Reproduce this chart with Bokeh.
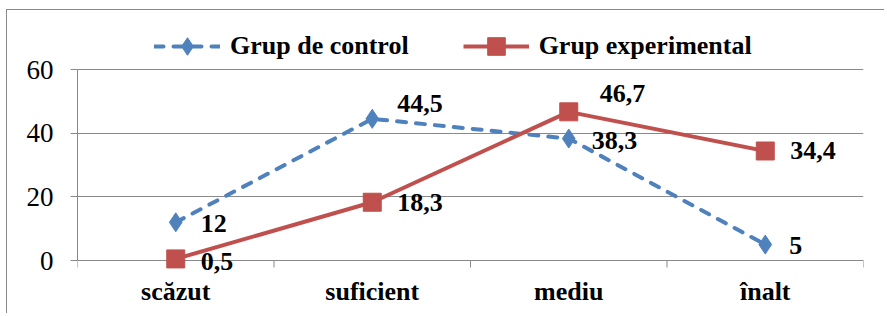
import math
from bokeh.plotting import figure
from bokeh.models import (ColumnDataSource, FixedTicker, Range1d, Legend, LegendItem, LabelSet)
from bokeh.core.properties import value
from bokeh.embed import file_html
from bokeh.resources import INLINE

# ---- data ----
categories = ["scăzut", "suficient", "mediu", "înalt"]
control = [12, 44.5, 38.3, 5]
experimental = [0.5, 18.3, 46.7, 34.4]
control_labels = ["12", "44,5", "38,3", "5"]
experimental_labels = ["0,5", "18,3", "46,7", "34,4"]
y_ticks = [0, 20, 40, 60]

# label offsets (styling, screen px; positive dy = up)
control_dx = [25, 25, 23, 24]
control_dy = [-1, 15, -2, -1]
experimental_dx = [25, 25, 31, 25]
experimental_dy = [-3, 0, 18, 0]

BLUE = "#4F81BD"
RED = "#C0504D"
GRAY = "#898989"
FONT = "Liberation Serif"

n = len(categories)
xs = [i + 0.5 for i in range(n)]
bounds = list(range(n + 1))

W, H = 878, 304
FL, FR = 70, 856     # frame left/right in canvas px
Y60, Y0 = 59, 250    # canvas px of the 60 and 0 gridlines
ppu = (Y0 - Y60) / y_ticks[-1]          # pixels per y unit
y_top = Y0 / ppu                         # frame spans whole canvas height
y_bot = -(H - Y0) / ppu

p = figure(width=W, height=H, output_backend="svg", toolbar_location=None,
           x_range=Range1d(0, n), y_range=Range1d(y_bot, y_top),
           min_border_left=FL, min_border_right=W - FR,
           min_border_top=0, min_border_bottom=0)
p.styles = {"margin-left": "6px", "margin-top": "9px",
            "border-left": "1px solid " + GRAY, "border-top": "1px solid " + GRAY}
p.outline_line_color = None
p.background_fill_color = "white"
p.border_fill_color = "white"
p.xaxis.visible = False

p.yaxis.ticker = FixedTicker(ticks=y_ticks, minor_ticks=[])
p.yaxis.bounds = (y_ticks[0], y_ticks[-1])
p.yaxis.major_tick_out = 7
p.yaxis.major_tick_in = 0
p.yaxis.major_tick_line_color = GRAY
p.yaxis.axis_line_color = GRAY
p.yaxis.major_label_text_font = FONT
p.yaxis.major_label_text_font_size = "27px"
p.yaxis.major_label_text_color = "black"
p.yaxis.major_label_standoff = 17

p.xgrid.grid_line_color = None
p.ygrid.ticker = FixedTicker(ticks=y_ticks)
p.ygrid.grid_line_color = GRAY
p.ygrid.grid_line_width = 1

# category axis drawn at y=0: boundary ticks + labels
p.ray(x=bounds, y=[0] * len(bounds), length=7, length_units="screen",
      angle=-math.pi / 2, line_color=GRAY, line_width=1)
p.text(x=xs, y=[0] * n, text=categories, y_offset=16,
       text_font=value(FONT), text_font_style="bold", text_font_size="26px",
       text_color="black", text_align="center", text_baseline="top")

src_c = ColumnDataSource(dict(x=xs, y=control, t=control_labels, dx=control_dx, dy=control_dy))
src_e = ColumnDataSource(dict(x=xs, y=experimental, t=experimental_labels,
                              dx=experimental_dx, dy=experimental_dy))

lc = p.line("x", "y", source=src_c, line_color=BLUE, line_width=4, line_dash="9 10",
            line_cap="round")
mc = p.scatter("x", "y", source=src_c, marker="diamond", size=19,
               fill_color=BLUE, line_color=BLUE)
le = p.line("x", "y", source=src_e, line_color=RED, line_width=4)
me = p.scatter("x", "y", source=src_e, marker="square", size=18,
               fill_color=RED, line_color=RED)

for src in (src_c, src_e):
    labels = LabelSet(x="x", y="y", text="t", source=src, x_offset="dx", y_offset="dy",
                      text_font=FONT, text_font_style="bold", text_font_size="26px",
                      text_color="black", text_align="left", text_baseline="middle")
    p.add_layout(labels)

legend = Legend(items=[LegendItem(label="Grup de control", renderers=[lc, mc]),
                       LegendItem(label="Grup experimental", renderers=[le, me])],
                location=(77, 246), orientation="horizontal")
legend.label_text_font = FONT
legend.label_text_font_style = "bold"
legend.label_text_font_size = "26px"
legend.label_text_color = "black"
legend.glyph_width = 66
legend.glyph_height = 44
legend.label_standoff = 10
legend.spacing = 54
legend.padding = 0
legend.margin = 0
legend.border_line_color = None
legend.background_fill_alpha = 0
p.add_layout(legend, "center")

open("out.html", "w").write(file_html(p, INLINE))
